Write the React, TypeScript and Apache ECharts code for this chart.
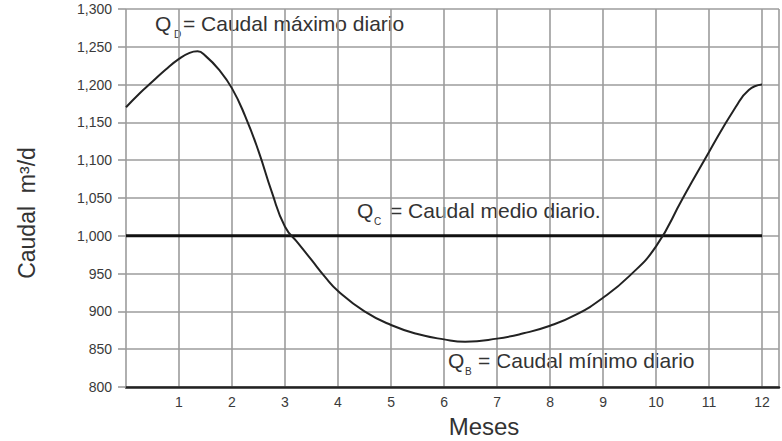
import React, { useEffect, useRef } from "react";
import * as echarts from "echarts";

const months: number[] = [0, 0.25, 0.5, 0.75, 1.0, 1.2, 1.35, 1.5, 1.75, 2, 2.25, 2.5, 2.75, 3, 3.25, 3.5, 3.75, 4, 4.5, 5, 5.5, 6, 6.4, 7, 7.5, 8, 8.5, 9, 9.5, 10, 10.5, 11, 11.5, 11.75, 12];
const caudal: number[] = [1170, 1188, 1204, 1220, 1234, 1242, 1244, 1238, 1220, 1195, 1158, 1112, 1058, 1012, 990, 968, 946, 927, 900, 882, 870, 863, 860, 864, 871, 881, 896, 918, 947, 986, 1049, 1111, 1170, 1193, 1200];
const caudalMedio = 1000;
const mediaRange: number[] = [0, 12];
const yTicks = { min: 800, max: 1300, step: 50 };
const xTicks = { min: 0, max: 12.32, step: 1, lastLabel: 12 };

const FONT = "Liberation Sans, Arial, sans-serif";

function qLabel(x: number, y: number, sub: string, subDx: number, textDx: number, text: string) {
  return [
    { type: "text", x, y, style: { text: "Q", font: `21px ${FONT}`, fill: "#333", verticalAlign: "middle", align: "left" } },
    { type: "text", x: x + subDx, y: y + 11, style: { text: sub, font: `10px ${FONT}`, fill: "#333", verticalAlign: "middle", align: "left" } },
    { type: "text", x: x + textDx, y, style: { text, font: `21px ${FONT}`, fill: "#333", verticalAlign: "middle", align: "left" } },
  ];
}

export default function App() {
  const ref = useRef<HTMLDivElement>(null);
  useEffect(() => {
    if (!ref.current) return;
    const chart = echarts.init(ref.current, undefined, { renderer: "svg" });
    const curve = months.map((m, i) => [m, caudal[i]]);
    const media = mediaRange.map((m) => [m, caudalMedio]);
    chart.setOption({
      animation: false,
      backgroundColor: "#fff",
      grid: { left: 126, right: -2, top: 9, bottom: 54, containLabel: false },
      xAxis: {
        type: "value",
        min: xTicks.min,
        max: xTicks.max,
        interval: xTicks.step,
        axisLine: { show: true, lineStyle: { color: "#222", width: 2.5 } },
        axisTick: { show: false },
        axisLabel: {
          color: "#3a3a3a",
          fontSize: 14,
          fontFamily: FONT,
          margin: 8,
          formatter: (v: number) => (v >= 1 && v <= xTicks.lastLabel && Number.isInteger(v) ? String(v) : ""),
        },
        splitLine: { show: true, lineStyle: { color: "#9c9c9c", width: 1.6 } },
      },
      yAxis: {
        type: "value",
        min: yTicks.min,
        max: yTicks.max,
        interval: yTicks.step,
        axisLine: { show: false },
        axisTick: { show: true, length: 8, lineStyle: { color: "#9c9c9c", width: 1.6 } },
        axisLabel: {
          color: "#3a3a3a",
          fontSize: 14,
          fontFamily: FONT,
          margin: 14,
          formatter: (v: number) => v.toLocaleString("en-US"),
        },
        splitLine: { show: true, lineStyle: { color: "#9c9c9c", width: 1.6 } },
      },
      series: [
        {
          type: "line",
          data: media,
          symbol: "none",
          lineStyle: { color: "#111", width: 3 },
          z: 3,
        },
        {
          type: "line",
          data: curve,
          symbol: "none",
          smooth: 0.5,
          lineStyle: { color: "#222", width: 2 },
          z: 4,
        },
      ],
      graphic: [
        ...qLabel(155, 23, "D", 19, 28, "= Caudal máximo diario"),
        ...qLabel(357, 210, "C", 17, 33, "= Caudal medio diario."),
        ...qLabel(448, 360, "B", 17, 30, "= Caudal mínimo diario"),
        {
          type: "text",
          x: 484,
          y: 426,
          style: { text: "Meses", font: `24px ${FONT}`, fill: "#333", align: "center", verticalAlign: "middle" },
        },
        {
          type: "text",
          x: 27,
          y: 213,
          rotation: Math.PI / 2,
          style: { text: "Caudal  m³/d", font: `23px ${FONT}`, fill: "#333", align: "center", verticalAlign: "middle" },
        },
      ],
    });
    return () => chart.dispose();
  }, []);
  return <div ref={ref} style={{ position: "fixed", left: 0, top: 0, width: 782, height: 441, background: "#fff" }} />;
}
